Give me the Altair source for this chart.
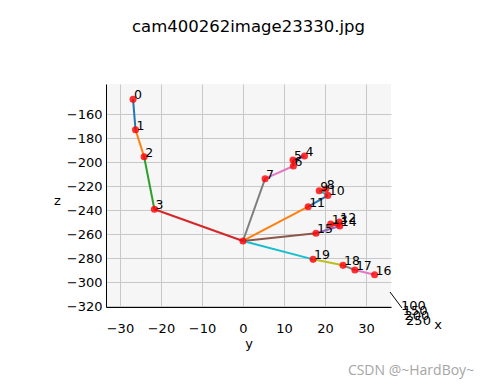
import altair as alt
import pandas as pd

# projected joint coordinates (horizontal "y", vertical "z")
joint_ids = list(range(21))
joint_y = [-26.8, -26.2, -24.1, -21.6, 15.0, 12.2, 12.3, 5.4, 20.2, 18.6,
           20.7, 15.9, 23.5, 21.4, 23.6, 17.8, 32.1, 27.3, 24.4, 17.1, 0.0]
joint_z = [-147.8, -173.1, -195.6, -239.4, -195.0, -198.3, -203.3, -213.9, -222.5, -223.9,
           -227.8, -237.2, -250.0, -251.7, -253.3, -259.4, -293.9, -290.0, -286.1, -281.1, -265.8]
label_ids = list(range(20))

edge_start = [0, 1, 2, 3, 4, 5, 6, 7, 8, 9, 10, 11, 12, 13, 14, 15, 16, 17, 18, 19]
edge_end = [1, 2, 3, 20, 5, 6, 7, 20, 9, 10, 11, 20, 13, 14, 15, 20, 17, 18, 19, 20]
tab10 = ["#1f77b4", "#ff7f0e", "#2ca02c", "#d62728", "#9467bd",
         "#8c564b", "#e377c2", "#7f7f7f", "#bcbd22", "#17becf"]

y_ticks = [-30, -20, -10, 0, 10, 20, 30]
z_ticks = [-160, -180, -200, -220, -240, -260, -280, -300, -320]
x_tick_labels = ["100", "150", "200", "250"]

FONT = "DejaVu Sans"

pts = pd.DataFrame({"id": joint_ids, "y": joint_y, "z": joint_z})
labels = pts[pts["id"].isin(label_ids)].copy()
labels["txt"] = labels["id"].astype(str)

rows = []
for k, (a, b) in enumerate(zip(edge_start, edge_end)):
    rows.append({"edge": k, "o": 0, "y": joint_y[a], "z": joint_z[a]})
    rows.append({"edge": k, "o": 1, "y": joint_y[b], "z": joint_z[b]})
edges = pd.DataFrame(rows)
edge_colors = [tab10[k % 10] for k in range(len(edge_start))]

xs = alt.Scale(domain=[-33.4, 36.1], nice=False, zero=False)
zs = alt.Scale(domain=[-320.8, -135], nice=False, zero=False)

x_axis = alt.Axis(
    values=y_ticks, tickCount=len(y_ticks), title="y", ticks=False, labelPadding=15, titlePadding=2,
    labelFontSize=13, titleFontSize=13, labelFont=FONT, titleFont=FONT,
    titleFontWeight="normal", labelColor="black", titleColor="black", labelOverlap=False,
    domainColor="black", grid=True, gridColor="#c8c8c8", labelFlush=False)
z_axis = alt.Axis(
    values=z_ticks, tickCount=len(z_ticks), title="z", ticks=False, labelPadding=4,
    labelFontSize=13, titleFontSize=13, labelFont=FONT, titleFont=FONT,
    titleFontWeight="normal", labelColor="black", titleColor="black", labelOverlap=False,
    titleAngle=0, titleX=-49, titleY=116, titleAlign="center", titleBaseline="middle",
    domainColor="black", grid=True, gridColor="#c8c8c8", labelFlush=False)

X = alt.X("y:Q", scale=xs, axis=x_axis)
Y = alt.Y("z:Q", scale=zs, axis=z_axis)

lines = alt.Chart(edges).mark_line(strokeWidth=2).encode(
    x=X, y=Y, order="o:Q",
    color=alt.Color("edge:N", scale=alt.Scale(domain=list(range(len(edge_start))), range=edge_colors), legend=None),
)

points = alt.Chart(pts).mark_circle(size=50, color="#ff0000", opacity=0.8).encode(x=X, y=Y)

texts = alt.Chart(labels).mark_text(align="left", baseline="alphabetic", dx=1, fontSize=12.5,
                                    font=FONT, color="black").encode(x=X, y=Y, text="txt:N")

layers = [lines, points, texts]

# depth-axis ("x") tick labels, crowded at the lower right like the reference
for i, t in enumerate(x_tick_labels):
    layers.append(alt.Chart(pd.DataFrame({"t": [t]})).mark_text(
        align="left", baseline="middle", fontSize=13, font=FONT, color="black").encode(
        x=alt.value(295 + 1.7 * i), y=alt.value(222 + 5 * i), text="t:N"))

layers.append(alt.Chart(pd.DataFrame({"t": ["x"]})).mark_text(
    align="center", baseline="middle", fontSize=13, font=FONT, color="black").encode(
    x=alt.value(332), y=alt.value(241), text="t:N"))

layers.append(alt.Chart(pd.DataFrame({"a": [0]})).mark_rule(color="black", strokeWidth=1).encode(
    x=alt.value(284), x2=alt.value(296), y=alt.value(208), y2=alt.value(224)))

layers.append(alt.Chart(pd.DataFrame({"t": ["CSDN @~HardBoy~"]})).mark_text(
    align="center", baseline="middle", fontSize=14, font="Open Sans", color="#a6a6a6").encode(
    x=alt.value(305), y=alt.value(287), text="t:N"))

chart = alt.layer(*layers).properties(
    width=285, height=223,
    title=alt.TitleParams("cam400262image23330.jpg", fontSize=16.5, font=FONT, fontWeight="normal",
                          color="black", anchor="middle", baseline="alphabetic", offset=36),
    autosize=alt.AutoSizeParams(type="none"),
    padding={"left": 106, "top": 84, "right": 100, "bottom": 83},
).configure_view(fill="#f6f6f6", stroke=None).configure_axis(labelOverlap=False)

chart.save("out.html", embed_options={"renderer": "svg", "actions": False})
